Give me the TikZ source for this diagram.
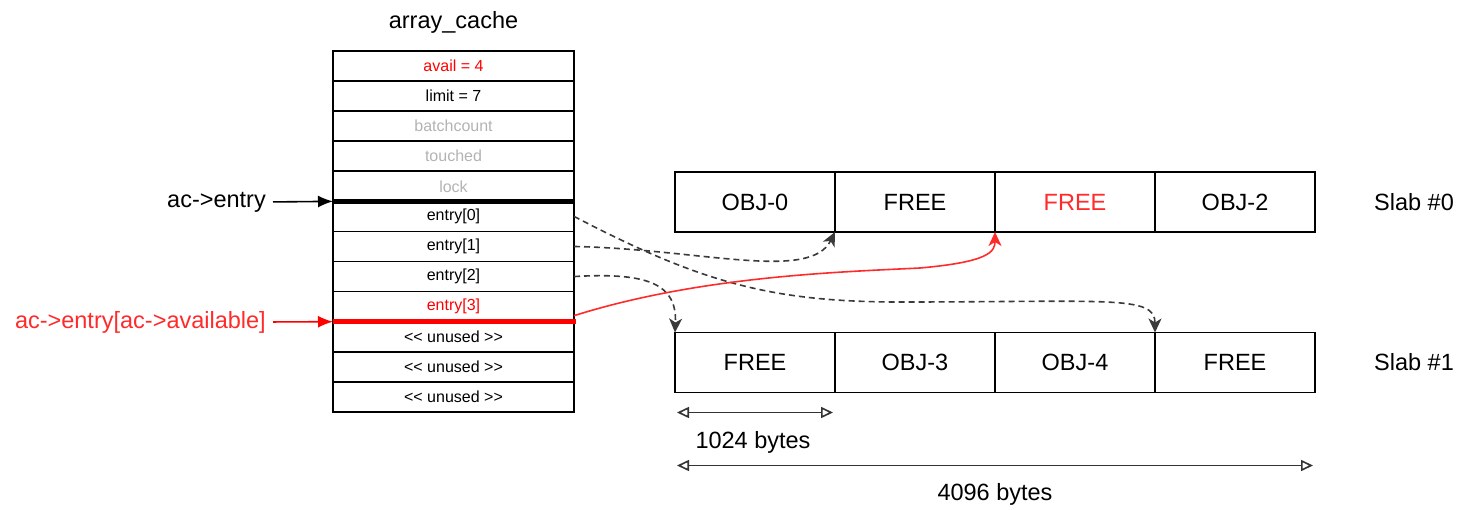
\documentclass[tikz,border=0pt]{standalone}
\usepackage{fontspec}
\setmainfont{Liberation Sans}
\usepackage{xcolor}
\usetikzlibrary{arrows.meta,positioning}

\definecolor{fadedtext}{HTML}{B3B3B3}
\definecolor{dashgray}{HTML}{3A3A3A}
\definecolor{linkred}{HTML}{FF2A2A}

\begin{document}
\begin{tikzpicture}[
        x=1pt, y=-1pt,
        slot/.style={rectangle, draw, line width=1.6pt, minimum width=241pt, minimum height=30.08pt,
                     outer sep=0pt, inner sep=0pt, font=\fontsize{16}{19}\selectfont},
        objcell/.style={rectangle, draw, line width=1.6pt, minimum width=160pt, minimum height=60pt,
                     outer sep=0pt, inner sep=0pt, font=\fontsize{23.5}{27}\selectfont},
        bigtext/.style={inner sep=0pt, font=\fontsize{23.5}{27}\selectfont},
        pointer/.style={draw, line width=1.6pt, -{Latex[length=15pt,width=12pt]}, shorten <=7pt},
        link/.style={draw=dashgray, line width=1.6pt, dash pattern=on 6pt off 4pt,
                     -{Stealth[length=14pt,width=13pt,inset=4pt]}},
        size/.style={draw=black!80, line width=1.6pt,
                     {Triangle[open,length=12pt,width=11pt]}-{Triangle[open,length=12pt,width=11pt]}}
    ]
    \useasboundingbox (0,0) rectangle (1463,510);

    % array_cache
    \node [bigtext] (title) at (453.5,22) {array\_cache};
    \node [slot, text=red] (avail) at (453.5,66) {avail = 4};
    \node [slot, below=0pt of avail] (limit) {limit = 7};
    \node [slot, below=0pt of limit, text=fadedtext] (batch) {batchcount};
    \node [slot, below=0pt of batch, text=fadedtext] (touched) {touched};
    \node [slot, below=0pt of touched, text=fadedtext] (lock) {lock};
    \node [slot, below=0pt of lock] (e0) {entry[0]};
    \node [slot, below=0pt of e0] (e1) {entry[1]};
    \node [slot, below=0pt of e1] (e2) {entry[2]};
    \node [slot, below=0pt of e2, text=red] (e3) {entry[3]};
    \node [slot, below=0pt of e3] (u1) {<{}< unused >{}>};
    \node [slot, below=0pt of u1] (u2) {<{}< unused >{}>};
    \node [slot, below=0pt of u2] (u3) {<{}< unused >{}>};
    \draw [line width=2.8pt] ([xshift=51pt]avail.south west) -- ([xshift=-50pt]avail.south east);
    \draw [line width=4.5pt] (e0.north west) -- (e0.north east);
    \draw [line width=5pt, red] (e3.south west) -- ([xshift=2pt]e3.south east);

    % pointers into the array
    \node [bigtext, anchor=east] (acentry) at (266,202) {ac->entry};
    \node [bigtext, anchor=east, text=linkred] (acavail) at (266,322) {ac->entry[ac->available]};
    \draw [pointer] (acentry.east) -- (e0.north west);
    \draw [pointer, red] (acavail.east) -- (e3.south west);

    % slabs
    \node [objcell] (s0a) at (755,202) {OBJ-0};
    \node [objcell, right=0pt of s0a] (s0b) {FREE};
    \node [objcell, right=0pt of s0b, text=linkred] (s0c) {FREE};
    \node [objcell, right=0pt of s0c] (s0d) {OBJ-2};
    \node [objcell] (s1a) at (755,362.5) {FREE};
    \node [objcell, right=0pt of s1a] (s1b) {OBJ-3};
    \node [objcell, right=0pt of s1b] (s1c) {OBJ-4};
    \node [objcell, right=0pt of s1c] (s1d) {FREE};
    \node [bigtext] (slab0) at (1414,202) {Slab \#0};
    \node [bigtext] (slab1) at (1414,362.5) {Slab \#1};

    % entries -> objects
    \draw [link] (e0.east) .. controls (700,282) and (770,302) .. (900,302)
                 .. controls (1110,302) and (1155,295) .. (s1c.north east);
    \draw [link] (e1.east) .. controls (700,249) and (810,282) .. (s0a.south east);
    \draw [link] (e2.east) .. controls (650,272) and (677,285) .. (s1a.north west);
    \draw [draw=linkred, line width=1.6pt, -{Stealth[length=14pt,width=13pt,inset=4pt]}]
                 ([yshift=6pt]e3.south east)
                 .. controls (700,276) and (840,272) .. (920,268)
                 .. controls (988,262) and (995,252) .. (s0b.south east);

    % sizes
    \coordinate (d1a) at ([xshift=2pt,yshift=-20pt]s1a.south west);
    \coordinate (d1b) at ([xshift=-2pt,yshift=-20pt]s1a.south east);
    \coordinate (d2a) at ([xshift=2pt,yshift=-73pt]s1a.south west);
    \coordinate (d2b) at ([xshift=-2pt,yshift=-73pt]s1d.south east);
    \draw [size] (d1a) -- (d1b);
    \draw [size] (d2a) -- (d2b);
    \node [bigtext] (kb1) at (753,442) {1024 bytes};
    \node [bigtext] (kb4) at (995,494) {4096 bytes};
\end{tikzpicture}
\end{document}
